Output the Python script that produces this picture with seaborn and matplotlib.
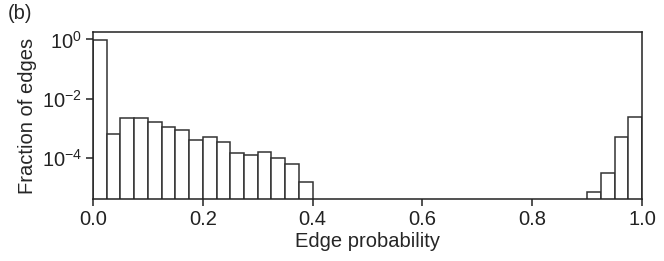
import numpy as np
import pandas as pd
import matplotlib
matplotlib.use('Agg')
import matplotlib.pyplot as plt
import seaborn as sns

# histogram bins of width 0.025 on [0, 1]; only the non-empty bins are listed
bin_left = [0.0, 0.025, 0.05, 0.075, 0.1, 0.125, 0.15, 0.175, 0.2, 0.225,
            0.25, 0.275, 0.3, 0.325, 0.35, 0.375,
            0.9, 0.925, 0.95, 0.975]
fraction = [0.99, 6.5e-4, 2.3e-3, 2.2e-3, 1.7e-3, 1.14e-3, 8.9e-4, 4.2e-4, 5.1e-4, 3.5e-4,
            1.44e-4, 1.24e-4, 1.6e-4, 9.8e-5, 6.2e-5, 1.5e-5,
            7.2e-6, 3.1e-5, 5.2e-4, 2.35e-3]
bin_width = 0.025

sns.set_theme(style="ticks")
plt.rcParams['font.family'] = ['Liberation Sans', 'DejaVu Sans']
plt.rcParams['axes.edgecolor'] = '#222222'
plt.rcParams['xtick.color'] = '#222222'
plt.rcParams['ytick.color'] = '#222222'

df = pd.DataFrame({"p": [b + bin_width / 2 for b in bin_left], "frac": fraction})

fig = plt.figure(figsize=(6.64, 2.61), dpi=100)
ax = fig.add_axes([0.140, 0.238, 0.827, 0.639])
ax.set_yscale('log')
sns.histplot(data=df, x="p", weights="frac", binwidth=bin_width, binrange=(0, 1), ax=ax,
             color='white', edgecolor='#333333', linewidth=1.1, alpha=1.0)

ax.set_xlim(0, 1)
ax.set_ylim(4.2e-6, 1.76)
ax.set_yticks([1e-4, 1e-2, 1e0])
ax.yaxis.set_minor_locator(matplotlib.ticker.NullLocator())
ax.set_xticks([0.0, 0.2, 0.4, 0.6, 0.8, 1.0])
ax.tick_params(labelsize=14.5, length=5, width=1.1, pad=3)
for s in ax.spines.values():
    s.set_linewidth(1.1)

ax.set_xlabel("Edge probability", fontsize=14.5, labelpad=2)
ax.set_ylabel("Fraction of edges", fontsize=14.5, labelpad=3)
fig.text(0.012, 0.948, "(b)", fontsize=14.5, ha='left', va='center')

fig.savefig("out.png", dpi=100)
plt.close()
